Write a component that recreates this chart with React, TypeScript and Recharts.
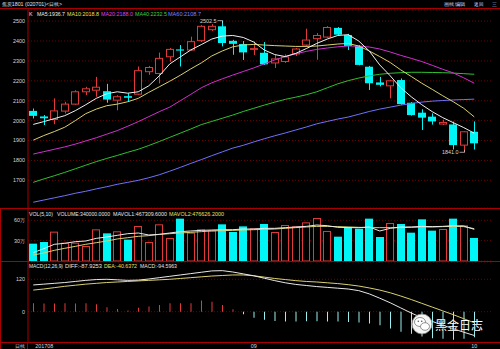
import React from 'react';
import { ComposedChart, Bar, Line, XAxis, YAxis, CartesianGrid, Cell } from 'recharts';

// ---------- data ----------
const dates = ["08-03","08-04","08-07","08-08","08-09","08-10","08-11","08-14","08-15","08-16","08-17","08-18","08-21","08-22","08-23","08-24","08-25","08-28","08-29","08-30","08-31","09-01","09-04","09-05","09-06","09-07","09-08","09-11","09-12","09-13","09-14","09-15","09-18","09-19","09-20","09-21","09-22","09-25","09-26","09-27","09-28","09-29","10-09"];
const opens = [2049,2021,2006,2048,2083,2145,2153,2148,2103,2123,2133,2246,2237,2321,2358,2355,2402,2457,2474,2401,2385,2358,2341,2290,2297,2335,2380,2412,2420,2466,2430,2376,2271,2192,2175,2204,2090,2040,2020,1983,1981,1877,1944];
const highs = [2061,2028,2112,2095,2153,2170,2220,2185,2128,2137,2272,2275,2342,2365,2380,2422,2480,2485,2502.5,2406,2400,2398,2395,2330,2333,2365,2462,2440,2475,2470,2436,2380,2275,2220,2205,2212,2093,2057,2037,2005,1995,1948,1996];
const lows = [2011,1978,1982,2036,2078,2128,2120,2090,2052,2098,2128,2230,2187,2296,2272,2351,2395,2450,2373,2331,2305,2330,2280,2265,2290,2325,2370,2306,2415,2428,2355,2278,2154,2172,2112,2080,2025,1953,1980,1978,1855,1841,1855];
const closes = [2024,2012,2049,2083,2145,2160,2168,2106,2120,2115,2251,2267,2313,2358,2352,2397,2474,2474,2390,2386,2343,2362,2283,2310,2320,2360,2405,2428,2468,2432,2375,2280,2188,2180,2200,2083,2028,2015,1996,1991,1877,1944,1886];

const ma5 = [1981,1995,2010,2025,2050,2080,2112,2135,2145,2138,2145,2175,2225,2285,2320,2355,2382,2410,2425,2428,2418,2395,2355,2332,2322,2338,2362,2388,2410,2428,2432,2400,2350,2280,2225,2165,2120,2080,2045,2015,1990,1965,1937];
const ma10 = [1902,1925,1945,1967,2000,2035,2058,2075,2083,2095,2112,2142,2170,2198,2228,2260,2290,2325,2350,2371,2380,2383,2380,2377,2375,2373,2373,2375,2380,2385,2388,2375,2350,2322,2292,2255,2222,2188,2157,2125,2095,2062,2019];
const ma20 = [1832,1844,1856,1868,1882,1898,1914,1932,1950,1972,1995,2020,2045,2068,2100,2132,2165,2190,2210,2229,2247,2265,2285,2305,2322,2336,2348,2358,2365,2371,2375,2374,2370,2360,2345,2328,2313,2297,2278,2258,2240,2215,2188];
const ma40 = [1690,1707,1723,1740,1758,1776,1794,1810,1825,1841,1856,1875,1895,1916,1937,1958,1980,1996,2012,2028,2046,2062,2078,2093,2107,2118,2130,2145,2165,2185,2201,2214,2225,2233,2238,2241,2243,2243,2242,2241,2239,2236,2233];
const ma60 = [1590,1601,1612,1623,1635,1645,1657,1668,1680,1690,1700,1713,1728,1746,1765,1785,1804,1824,1843,1862,1876,1893,1909,1924,1938,1953,1968,1984,1996,2008,2018,2032,2046,2058,2068,2078,2086,2093,2098,2101,2104,2106,2108];

const volumes = [256000,280000,433000,270000,270000,221000,467000,408000,438000,315000,516000,280000,541000,339000,625000,418000,467000,452000,541000,428000,511000,482000,546000,428000,531000,511000,570000,634000,443000,359000,502000,477000,625000,354000,561000,546000,418000,615000,448000,472000,625000,526000,340000];
const mavol1 = [123000,182000,246000,261000,285000,295000,334000,354000,379000,403000,413000,384000,393000,413000,433000,443000,452000,457000,462000,462000,472000,472000,482000,482000,492000,502000,511000,531000,521000,497000,492000,492000,502000,443000,482000,502000,502000,511000,507000,511000,521000,516000,467000];
const mavol2 = [88000,118000,157000,187000,216000,246000,270000,295000,325000,344000,364000,374000,393000,403000,413000,423000,433000,443000,448000,452000,457000,462000,467000,472000,482000,492000,502000,511000,511000,507000,502000,497000,492000,492000,492000,492000,497000,502000,502000,507000,511000,507000,477000];

const diff = [99,102,105,108,112,116,119,120,118,116,117,121,126,131,136,141,146,151,152,147,140,133,124,115,107,101,97,93,90,87,84,78,66,50,33,14,-5,-22,-36,-50,-63,-76,-88];
const dea = [80,84,89,94,98,102,105,108,110,112,114,116,118,120,123,126,129,132,134,136,136,133,128,123,119,115,112,110,107,104,100,95,88,80,70,58,45,31,17,3,-11,-26,-41];
const macdHist = [31,30,30,31,30,31,28,16,10,4,15,19,25,31,31,31,41,37,25,9,-9,-22,-30,-34,-36,-36,-35,-35,-36,-36,-38,-40,-44,-50,-62,-74,-82,-92,-98,-100,-104,-100,-95];

const priceTicks = [1700,1800,1900,2000,2100,2200,2300,2400,2500];
const volTicks = [300000,600000];
const macdTicks = [0,120];
const monthTicks = ["08-03","09-01","10-09"];
const monthLabels = ["201708","09","10"];

// ---------- derived table ----------
const data = dates.map((d, i) => ({
  date: d, open: opens[i], high: highs[i], low: lows[i], close: closes[i],
  ma5: ma5[i], ma10: ma10[i], ma20: ma20[i], ma40: ma40[i], ma60: ma60[i],
  vol: volumes[i], mavol1: mavol1[i], mavol2: mavol2[i],
  diff: diff[i], dea: dea[i], macd: macdHist[i],
}));
const maxHighIdx = highs.indexOf(Math.max(...highs));
const minLowIdx = lows.indexOf(Math.min(...lows));

// ---------- styles ----------
const CYAN = '#00f6f6';
const RED = '#e23a3a';
const FRAME = '#a80000';
const GRID = '#6e0000';
const FONT = '"Liberation Sans", Arial, sans-serif';
const FS = 5.4;
const TXT = '#d8d8d8';
const WHITE = '#e6e6e6';
const YEL = '#e8e060';
const PAD = { left: 0, right: 12.5 };

function CandleShape(props: any) {
  const { x, y, width, height, payload, index } = props;
  if (!payload) return null;
  const { open, close, high, low } = payload;
  const top = Math.min(y, y + height);
  const h = Math.abs(height);
  const k = h / (high - low || 1);
  const py = (v: number) => top + (high - v) * k;
  const cx = Math.round(x + width / 2) + 0.5;
  const up = close >= open;
  const bTop = py(Math.max(open, close));
  const bBot = py(Math.min(open, close));
  const left = Math.round(x);
  const w = Math.round(width);
  const extra: any[] = [];
  if (index === maxHighIdx) {
    const yy = py(high);
    extra.push(
      <g key="hi">
        <text x={cx - 6} y={yy + 1.9} fontSize={FS} fill={TXT} textAnchor="end" fontFamily={FONT}>{high.toFixed(1)}</text>
        <polyline points={`${cx - 5},${yy} ${cx},${yy} ${cx},${yy + 2.5}`} fill="none" stroke={TXT} strokeWidth={0.7} />
      </g>
    );
  }
  if (index === minLowIdx) {
    const yy = py(low);
    extra.push(
      <g key="lo">
        <text x={cx - 6} y={yy + 1.9} fontSize={FS} fill={TXT} textAnchor="end" fontFamily={FONT}>{low.toFixed(1)}</text>
        <polyline points={`${cx - 5},${yy} ${cx},${yy} ${cx},${yy - 2.5}`} fill="none" stroke={TXT} strokeWidth={0.7} />
      </g>
    );
  }
  if (up) {
    return (
      <g>
        <line x1={cx} x2={cx} y1={py(high)} y2={bTop} stroke={RED} strokeWidth={1} />
        <line x1={cx} x2={cx} y1={bBot} y2={py(low)} stroke={RED} strokeWidth={1} />
        <rect x={left + 0.5} y={bTop} width={w - 1} height={Math.max(bBot - bTop, 0.8)} fill="#000" stroke={RED} strokeWidth={1} />
        {extra}
      </g>
    );
  }
  return (
    <g>
      <line x1={cx} x2={cx} y1={py(high)} y2={py(low)} stroke={CYAN} strokeWidth={1} />
      <rect x={left} y={bTop} width={w} height={Math.max(bBot - bTop, 1)} fill={CYAN} />
      {extra}
    </g>
  );
}

function VolShape(props: any) {
  const { x, y, width, height, payload } = props;
  if (!payload) return null;
  const top = Math.min(y, y + height);
  const h = Math.abs(height);
  const up = payload.close >= payload.open;
  const left = Math.round(x);
  const w = Math.round(width);
  if (up) {
    return <rect x={left + 0.5} y={top + 0.5} width={w - 1} height={Math.max(h - 0.5, 0)} fill="#000" stroke={RED} strokeWidth={1} />;
  }
  return <rect x={left} y={top} width={w} height={h} fill={CYAN} />;
}

function MonthTick(props: any) {
  const { x, y, payload } = props;
  const i = monthTicks.indexOf(payload.value);
  if (i < 0) return null;
  return (
    <text x={i === 0 ? x + 2 : x} y={y + 5} fontSize={FS} fill={TXT} textAnchor={i === 0 ? 'start' : 'middle'} fontFamily={FONT}>
      {monthLabels[i]}
    </text>
  );
}

const HLine = ({ top, left = 0, width = 500, color = FRAME }: any) => (
  <div style={{ position: 'absolute', left, top, width, height: 1, background: color }} />
);
const VLine = ({ left, top, height, color = FRAME }: any) => (
  <div style={{ position: 'absolute', left, top, width: 1, height, background: color }} />
);

const T = ({ x, y, c, w, children }: any) => (
  <text x={x} y={y} fill={c} fontSize={FS} fontFamily={FONT}
    {...(w ? { textLength: w, lengthAdjust: 'spacingAndGlyphs' } : {})}>{children}</text>
);

export default function App() {
  const tickStyle = { fill: TXT, fontSize: FS, fontFamily: FONT };
  return (
    <div style={{ position: 'absolute', left: 0, top: 0, width: 500, height: 349, background: '#000', overflow: 'hidden', fontFamily: FONT }}>
      {/* main price panel */}
      <div style={{ position: 'absolute', left: 0, top: 0 }}>
        <ComposedChart width={500} height={210} data={data} margin={{ top: 10, right: 8, bottom: 2, left: 0 }}>
          <CartesianGrid vertical={false} stroke={GRID} strokeDasharray="1 2" />
          <XAxis dataKey="date" hide padding={PAD} />
          <YAxis width={28} domain={[1561, 2556]} ticks={priceTicks} interval={0} allowDataOverflow tickSize={0} tickMargin={3}
            axisLine={{ stroke: FRAME }} tickLine={false} tick={tickStyle} />
          <Bar dataKey={(d: any) => [d.low, d.high]} barSize={8} shape={(p: any) => <CandleShape {...p} />} isAnimationActive={false} />
          <Line dataKey="ma60" stroke="#7070ff" strokeWidth={1} dot={false} isAnimationActive={false} />
          <Line dataKey="ma40" stroke="#30c030" strokeWidth={1} dot={false} isAnimationActive={false} />
          <Line dataKey="ma20" stroke="#d030d0" strokeWidth={1} dot={false} isAnimationActive={false} />
          <Line dataKey="ma10" stroke="#d8d070" strokeWidth={1} dot={false} isAnimationActive={false} />
          <Line dataKey="ma5" stroke="#f0f0f0" strokeWidth={1} dot={false} isAnimationActive={false} />
        </ComposedChart>
      </div>

      {/* volume panel */}
      <div style={{ position: 'absolute', left: 0, top: 208 }}>
        <ComposedChart width={500} height={53} data={data} margin={{ top: 0, right: 8, bottom: 0, left: 0 }}>
          <CartesianGrid vertical={false} stroke={GRID} strokeDasharray="1 2" />
          <XAxis dataKey="date" hide padding={PAD} />
          <YAxis width={28} domain={[0, 782000]} ticks={volTicks} interval={0} allowDataOverflow tickSize={0} tickMargin={3}
            axisLine={{ stroke: FRAME }} tickLine={false} tick={tickStyle} tickFormatter={(v: number) => `${v / 10000}万`} />
          <Bar dataKey="vol" barSize={8} shape={(p: any) => <VolShape {...p} />} isAnimationActive={false} />
          <Line dataKey="mavol2" stroke="#d8d070" strokeWidth={1} dot={false} isAnimationActive={false} />
          <Line dataKey="mavol1" stroke="#e8e8e8" strokeWidth={1} dot={false} isAnimationActive={false} />
        </ComposedChart>
      </div>

      {/* MACD panel */}
      <div style={{ position: 'absolute', left: 0, top: 262 }}>
        <ComposedChart width={500} height={87} data={data} margin={{ top: 0, right: 8, bottom: 0, left: 0 }}>
          <CartesianGrid vertical={false} stroke={GRID} strokeDasharray="1 2" />
          <XAxis dataKey="date" padding={PAD} height={6.3} ticks={monthTicks} interval={0} axisLine={false} tickLine={false}
            tickSize={0} tickMargin={0} tick={(p: any) => <MonthTick {...p} />} />
          <YAxis width={28} domain={[-114.8, 184]} ticks={macdTicks} interval={0} allowDataOverflow tickSize={0} tickMargin={3}
            axisLine={{ stroke: FRAME }} tickLine={false} tick={tickStyle} />
          <Bar dataKey="macd" barSize={1} isAnimationActive={false}>
            {data.map((d, i) => <Cell key={i} fill={d.macd >= 0 ? RED : '#9af0f0'} />)}
          </Bar>
          <Line dataKey="dea" stroke="#d8d070" strokeWidth={1} dot={false} isAnimationActive={false} />
          <Line dataKey="diff" stroke="#e8e8e8" strokeWidth={1} dot={false} isAnimationActive={false} />
        </ComposedChart>
      </div>

      {/* frame lines */}
      <HLine top={8} />
      <HLine top={208} />
      <HLine top={261} />
      <HLine top={342} />
      <VLine left={0} top={208} height={141} />
      <VLine left={27} top={342} height={7} />

      {/* text overlay */}
      <svg style={{ position: 'absolute', left: 0, top: 0, pointerEvents: 'none' }} width={500} height={349}>
        <T x={2} y={6} c="#e0e0e0" w={60}>焦炭1801 (020701)&lt;日线&gt;</T>
        <T x={444} y={6} c="#c8d8ff" w={21}>画线编辑</T>
        <T x={474} y={6} c="#c8d8ff" w={9}>返回</T>
        <T x={492} y={6} c="#c8d8ff">三</T>

        <T x={29} y={16} c={WHITE}>K</T>
        <T x={37} y={16} c="#f0f0f0" w={28}>MA5:1936.7</T>
        <T x={67} y={16} c={YEL} w={32}>MA10:2018.8</T>
        <T x={101} y={16} c="#e040e0" w={32}>MA20:2188.0</T>
        <T x={135} y={16} c="#40d040" w={32}>MA40:2232.5</T>
        <T x={168} y={16} c="#8080ff" w={33}>MA60:2108.7</T>

        <T x={29} y={216} c={WHITE} w={24}>VOL(5,10)</T>
        <T x={57} y={216} c={WHITE} w={53}>VOLUME:340000.0000</T>
        <T x={113} y={216} c={WHITE} w={54}>MAVOL1:467309.6000</T>
        <T x={169} y={216} c={YEL} w={55}>MAVOL2:476626.2000</T>

        <T x={29} y={268} c={WHITE} w={34}>MACD(12,26,9)</T>
        <T x={65} y={268} c={WHITE} w={37}>DIFF:-87.9253</T>
        <T x={104} y={268} c={YEL} w={33}>DEA:-40.6372</T>
        <T x={140} y={268} c={WHITE} w={37}>MACD:-94.5963</T>

        <T x={15} y={348} c="#d0d0d0" w={10}>日线</T>
      </svg>

      {/* watermark */}
      <svg style={{ position: 'absolute', left: 411, top: 313 }} width={24} height={22}>
        <circle cx={11} cy={11} r={10} fill="#f4f4f4" stroke="#888" strokeWidth={0.8} />
        <ellipse cx={9} cy={9} rx={5.5} ry={4.5} fill="#fff" stroke="#777" strokeWidth={0.8} />
        <ellipse cx={14} cy={13.5} rx={4.5} ry={3.8} fill="#fff" stroke="#777" strokeWidth={0.8} />
        <circle cx={7.3} cy={8.3} r={0.8} fill="#555" />
        <circle cx={10.7} cy={8.3} r={0.8} fill="#555" />
      </svg>
      <div style={{ position: 'absolute', left: 435, top: 319, fontSize: 12, color: '#fff', fontFamily: '"Noto Sans CJK SC", sans-serif', lineHeight: 1, whiteSpace: 'nowrap', textShadow: '0 0 1px #000' }}>黑金日志</div>
    </div>
  );
}
